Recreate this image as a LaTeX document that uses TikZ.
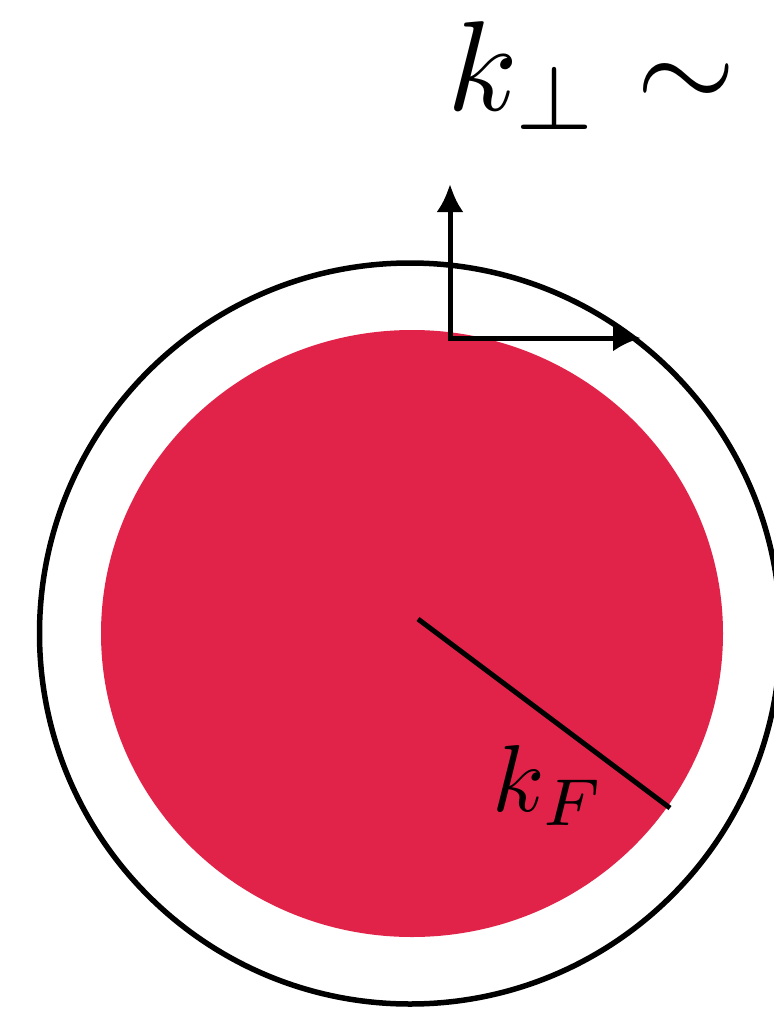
\documentclass[tikz,border=0pt]{standalone}
\usetikzlibrary{arrows.meta}
\definecolor{fermired}{RGB}{225,35,73}
\begin{document}
\begin{tikzpicture}[x=1pt,y=-1pt,
  rim/.style={draw=black,line width=5.5pt},
  sea/.style={fill=fermired,draw=none},
  axisline/.style={line width=5pt,-{Latex[length=28pt,width=27pt]}},
  radline/.style={line width=5pt},
  biglabel/.style={anchor=base west,inner sep=0pt}]
\useasboundingbox (0,0) rectangle (774,1010);
\coordinate (c) at (410,633.5);
\coordinate (cr) at (412,633.5);
\coordinate (corner) at (450,338);
\coordinate (ytip) at (450,184);
\coordinate (xtip) at (641,338);
\coordinate (r0) at (418,619);
\coordinate (r1) at (670,808);
\fill[sea] (cr) ellipse [x radius=311, y radius=303.5];
\draw[rim] (c) circle [radius=370.5];
\draw[radline] (r0) -- (r1);
\draw[axisline] ([yshift=2.5pt]corner) -- (ytip);
\draw[axisline] ([xshift=-2.5pt]corner) -- (xtip);
\node[biglabel,scale=12.8] (kperp) at (445,110) {$k_\perp\sim$};
\node[biglabel,scale=9.5] (kF) at (491,811) {$k_F$};
\end{tikzpicture}
\end{document}
